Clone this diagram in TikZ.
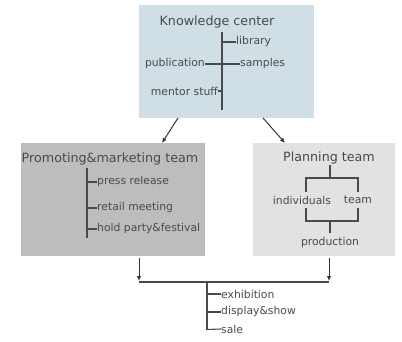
\documentclass[tikz,border=0pt]{standalone}
\usepackage{fontspec}
\setmainfont{DejaVu Sans}
\usetikzlibrary{arrows.meta}
\definecolor{kbox}{HTML}{D0DFE5}
\definecolor{pbox}{HTML}{BDBDBD}
\definecolor{qbox}{HTML}{E2E2E2}
\definecolor{ink}{HTML}{4A4A4A}
\begin{document}
\begin{tikzpicture}[x=1pt,y=-1pt,
  title/.style={text=ink,font=\fontsize{12.7}{14}\selectfont,inner sep=0pt},
  item/.style={text=ink,font=\fontsize{10.8}{12}\selectfont,inner sep=0pt},
  ln/.style={draw=ink,line width=1.1pt},
  arr/.style={draw=black!80,line width=1pt,-{Latex[length=5pt,width=4.5pt]}}]
\useasboundingbox (0,0) rectangle (402,342);
% boxes
\fill[kbox] (139,5) rectangle (314,118);
\fill[pbox] (21,143) rectangle (205,256);
\fill[qbox] (253,143) rectangle (395,256);
% knowledge center
\node[title] (kc) at (217,22) {Knowledge center};
\coordinate (kt) at (222,32);
\coordinate (kb) at (222,110);
\draw[ln] (kt) -- (kb);
\node[item,anchor=west] (lib) at (236,42) {library};
\node[item,anchor=east] (pub) at (205,64) {publication};
\node[item,anchor=west] (sam) at (240,64) {samples};
\node[item,anchor=east] (men) at (218,91) {mentor stuff};
\draw[ln] (222,42) -- (lib.west);
\draw[ln] (pub.east) -- (sam.west);
\draw[ln] (men.east) -- (222,91);
% arrows from top box
\coordinate (a1) at (178,118);
\coordinate (a2) at (162,143);
\coordinate (b1) at (263,118);
\coordinate (b2) at (285,143);
\draw[arr] (a1) -- (a2);
\draw[arr] (b1) -- (b2);
% promoting
\node[title] (pm) at (110,159) {Promoting\&marketing team};
\draw[ln] (87,168) -- (87,238);
\node[item,anchor=west] (pr) at (97,182) {press release};
\node[item,anchor=west] (rm) at (97,208) {retail meeting};
\node[item,anchor=west] (hp) at (97,229) {hold party\&festival};
\draw[ln] (87,182) -- (pr.west);
\draw[ln] (87,208) -- (rm.west);
\draw[ln] (87,229) -- (hp.west);
% planning
\node[title] (pt) at (329,158) {Planning team};
\node[item] (ind) at (302,200) {individuals};
\node[item] (tm) at (358,200) {team};
\node[item] (prod) at (330,243) {production};
\draw[ln] (330,165) -- (330,178);
\draw[ln] (306,192) -- (306,178) -- (358,178) -- (358,192);
\draw[ln] (306,208) -- (306,221) -- (358,221) -- (358,208);
\draw[ln] (330,221) -- (330,233);
% bottom
\draw[arr] (139,258) -- (139,281);
\draw[arr] (329,258) -- (329,281);
\draw[ln] (139,282) -- (329,282);
\draw[ln] (207,282) -- (207,330);
\node[item,anchor=west] (ex) at (221,294) {exhibition};
\node[item,anchor=west] (ds) at (221,312) {display\&show};
\node[item,anchor=west] (sa) at (221,329) {sale};
\draw[ln] (207,294) -- (ex.west);
\draw[ln] (207,312) -- (ds.west);
\draw[ln] (207,329.5) -- (sa.west);
\end{tikzpicture}
\end{document}
